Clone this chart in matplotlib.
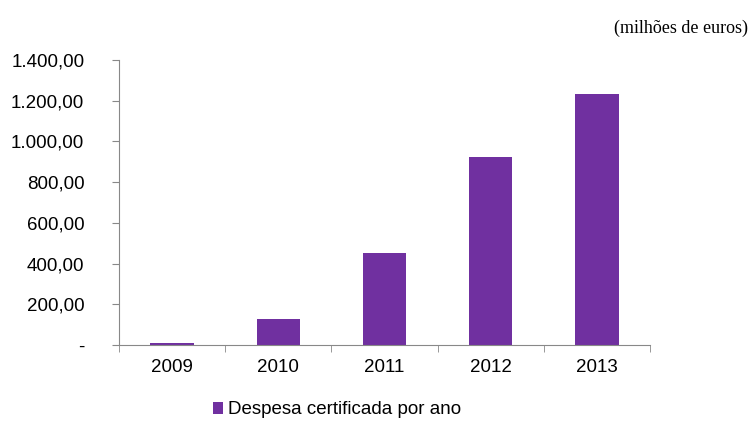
import matplotlib
matplotlib.use("Agg")
import matplotlib.pyplot as plt
import numpy as np
from matplotlib.ticker import FuncFormatter

years = ["2009", "2010", "2011", "2012", "2013"]
despesa = [8, 128, 453, 922, 1233]
series_label = "Despesa certificada por ano"
unit_note = "(milhões de euros)"

BAR = "#7030A0"
AXIS = "#888888"

plt.rcParams["font.family"] = ["Liberation Sans", "DejaVu Sans"]

fig = plt.figure(figsize=(7.49, 4.21), dpi=100)
ax = fig.add_axes([119 / 749, 1 - 345 / 421, 531 / 749, 285 / 421])

x = np.arange(len(years))
ax.bar(x, despesa, width=0.41, color=BAR, label=series_label)

ax.set_xlim(-0.5, len(years) - 0.5)
ax.set_ylim(0, 1400)
ax.set_yticks(np.arange(0, 1401, 200))


def fmt(v, pos):
    if v == 0:
        return "-"
    s = f"{v:,.2f}"
    return s.replace(",", "X").replace(".", ",").replace("X", ".")


ax.yaxis.set_major_formatter(FuncFormatter(fmt))
ax.set_xticks(x)
ax.set_xticklabels(years)
ax.set_xticks(np.arange(-0.5, len(years), 1.0), minor=True)
ax.tick_params(axis="x", which="major", length=0, pad=10, labelsize=13.5)
ax.tick_params(axis="x", which="minor", length=5, color=AXIS, direction="out")
ax.tick_params(axis="y", length=5, color=AXIS, pad=20, labelsize=13.5)

for side in ("top", "right"):
    ax.spines[side].set_visible(False)
for side in ("left", "bottom"):
    ax.spines[side].set_color(AXIS)

fig.text(748 / 749, 1 - 28 / 421, unit_note, ha="right", va="center",
         fontsize=13, family=["Liberation Serif", "DejaVu Serif"])

fig.legend(loc="center", bbox_to_anchor=(337 / 749, 1 - 410 / 421),
           frameon=False, fontsize=13.5, handlelength=0.55, handleheight=0.55,
           handletextpad=0.25)

fig.savefig("out.png", dpi=100)
